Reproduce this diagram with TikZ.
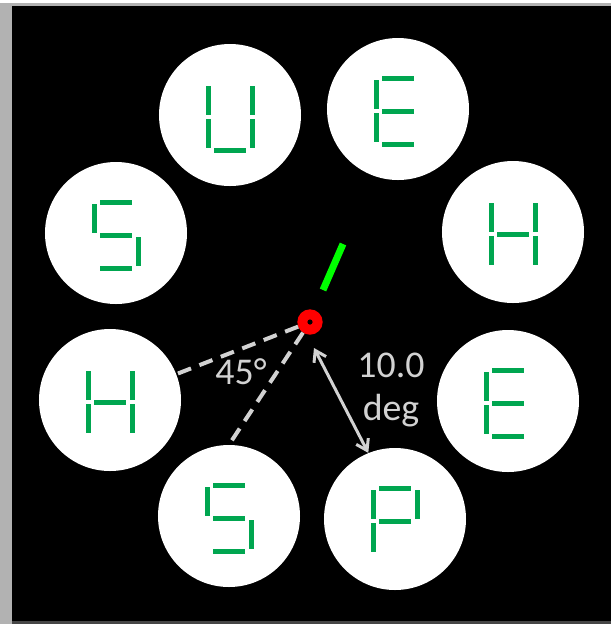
\documentclass[tikz,border=0pt]{standalone}
\usepackage{fontspec}
\newfontfamily\calibri{Carlito}
\usetikzlibrary{arrows.meta}
\definecolor{hijau}{RGB}{0,166,80}
\definecolor{hijauterang}{RGB}{0,255,0}
\definecolor{abu}{RGB}{210,210,210}
\definecolor{bingkai}{RGB}{178,178,178}
\definecolor{bingkaibawah}{RGB}{70,70,70}

\begin{document}
\begin{tikzpicture}[x=0.25mm,y=-0.25mm,
      lingkaran/.style={circle,fill=white,minimum size=35.5mm,inner sep=0pt},
      segmen/.style={draw=hijau,line width=1.25mm},
      titik/.style={circle,fill=red,minimum size=6.35mm,inner sep=0pt,outer sep=0pt},
      putus/.style={draw=abu,line width=1mm,dash pattern=on 3.5mm off 2.25mm},
      panah/.style={draw=abu,line width=0.75mm,
        {Straight Barb[length=2.6mm,width=3.4mm]}-{Straight Barb[length=2.6mm,width=3.4mm]}},
      jarum/.style={draw=hijauterang,line width=1.75mm},
      teks/.style={text=abu,font=\calibri\fontsize{26.9}{31.2}\selectfont,align=center}]

    % Latar dan bingkai
    \useasboundingbox (0,0) rectangle (611,624);
    \fill[white] (0,0) rectangle (611,624);
    \fill[bingkai] (0,3) rectangle (611,624);
    \fill[bingkaibawah] (12,621) rectangle (611,624);
    \fill[black] (12,6) rectangle (611,621);

    % Delapan lingkaran
    \node[lingkaran] (lU) at (230,115) {};
    \node[lingkaran] (lE1) at (398,109) {};
    \node[lingkaran] (lH1) at (513,232) {};
    \node[lingkaran] (lE2) at (508,401) {};
    \node[lingkaran] (lP) at (395,519) {};
    \node[lingkaran] (lS1) at (229,516) {};
    \node[lingkaran] (lH2) at (110,400) {};
    \node[lingkaran] (lS2) at (116,233) {};

    % Huruf tujuh segmen
    \begin{scope}[shift={(lU)}]
      \draw[segmen] (22,-29) -- (22,0) (22,4) -- (22,33) (-16,35) -- (16,35)
        (-22,4) -- (-22,33) (-22,-29) -- (-22,0);
    \end{scope}
    \begin{scope}[shift={(lE1)}]
      \draw[segmen] (-16,-31) -- (16,-31) (-16,35) -- (16,35) (-16,2) -- (16,2)
        (-22,4) -- (-22,33) (-22,-29) -- (-22,0);
    \end{scope}
    \begin{scope}[shift={(lH1)}]
      \draw[segmen] (22,-29) -- (22,0) (22,4) -- (22,33) (-16,2) -- (16,2)
        (-22,4) -- (-22,33) (-22,-29) -- (-22,0);
    \end{scope}
    \begin{scope}[shift={(lE2)}]
      \draw[segmen] (-16,-31) -- (16,-31) (-16,35) -- (16,35) (-16,2) -- (16,2)
        (-22,4) -- (-22,33) (-22,-29) -- (-22,0);
    \end{scope}
    \begin{scope}[shift={(lP)}]
      \draw[segmen] (-16,-31) -- (16,-31) (22,-29) -- (22,0) (-16,2) -- (16,2)
        (-22,4) -- (-22,33) (-22,-29) -- (-22,0);
    \end{scope}
    \begin{scope}[shift={(lS1)}]
      \draw[segmen] (-16,-31) -- (16,-31) (-22,-29) -- (-22,0) (-16,2) -- (16,2)
        (22,4) -- (22,33) (-16,35) -- (16,35);
    \end{scope}
    \begin{scope}[shift={(lH2)}]
      \draw[segmen] (22,-29) -- (22,0) (22,4) -- (22,33) (-16,2) -- (16,2)
        (-22,4) -- (-22,33) (-22,-29) -- (-22,0);
    \end{scope}
    \begin{scope}[shift={(lS2)}]
      \draw[segmen] (-16,-31) -- (16,-31) (-22,-29) -- (-22,0) (-16,2) -- (16,2)
        (22,4) -- (22,33) (-16,35) -- (16,35);
    \end{scope}

    % Titik pusat, jarum dan sudut
    \node[titik] (pusat) at (310,322) {};
    \fill[black] (pusat) circle (0.65mm);
    \coordinate (j1) at (323,290);
    \coordinate (j2) at (343,244);
    \draw[jarum] (j1) -- (j2);
    \draw[putus] (pusat) -- (lH2);
    \draw[putus] (pusat) -- (lS1.north);
    \coordinate (awal) at (314,348);
    \draw[panah] (awal) -- (lP.112);
    \node[teks,anchor=base] (sudut) at (241,384) {45°};
    \node[teks] (jarak) at (391,390) {10.0\\deg};
  \end{tikzpicture}
\end{document}
